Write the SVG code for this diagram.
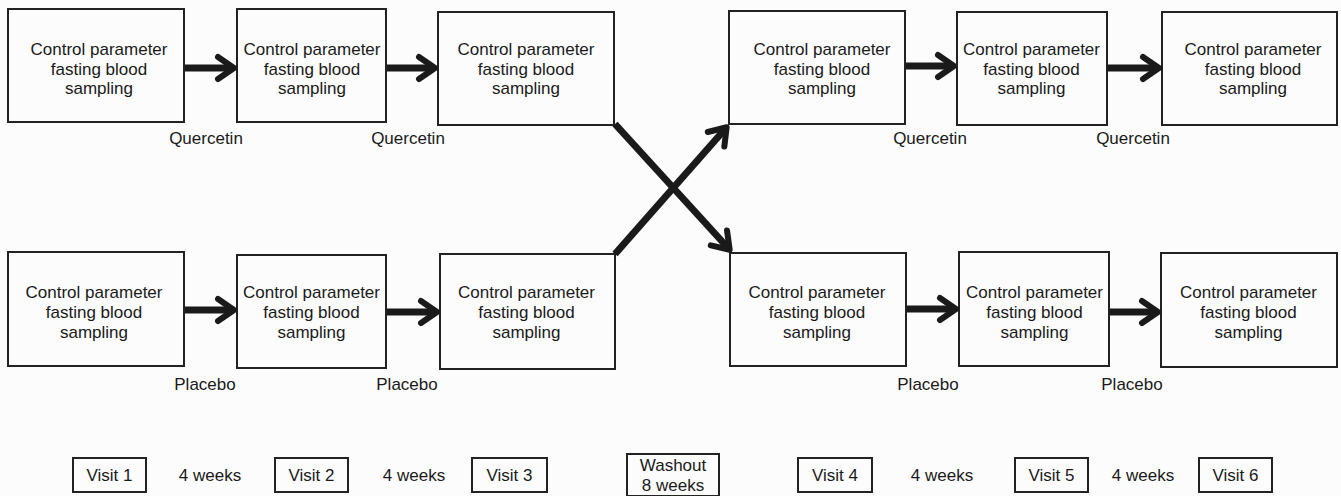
<svg xmlns="http://www.w3.org/2000/svg" width="1341" height="496" viewBox="0 0 1341 496">
<style>
text{font-family:"Liberation Sans",Arial,sans-serif;font-size:17px;fill:#1a1a1a;text-anchor:middle}
.box{fill:none;stroke:#222;stroke-width:2}
.lg{fill:none;stroke:#222;stroke-width:2}
.arr{fill:none;stroke:#1a1a1a;stroke-width:7;marker-end:url(#head)}
.lgt{font-size:16px}
</style>
<defs>
<marker id="head" markerUnits="userSpaceOnUse" viewBox="-30 -20 40 40" refX="0" refY="0" markerWidth="40" markerHeight="40" orient="auto" overflow="visible">
<path d="M -15 -11 L 1 0 L -15 11" fill="none" stroke="#1a1a1a" stroke-width="6" stroke-linejoin="round" stroke-linecap="round"/>
</marker>
</defs>
<rect width="1341" height="496" fill="#fcfcfc"/>

<g id="q1"><rect class="box" x="8" y="9" width="176" height="113"/><text x="99" y="55">Control parameter</text><text x="99" y="74.5">fasting blood</text><text x="99" y="94">sampling</text></g>
<g id="q2"><rect class="box" x="237" y="9" width="149" height="113"/><text x="312" y="55">Control parameter</text><text x="312" y="74.5">fasting blood</text><text x="312" y="94">sampling</text></g>
<g id="q3"><rect class="box" x="438" y="12" width="176" height="113"/><text x="526" y="55">Control parameter</text><text x="526" y="74.5">fasting blood</text><text x="526" y="94">sampling</text></g>
<g id="q4"><rect class="box" x="729" y="11" width="176" height="113"/><text x="822" y="55">Control parameter</text><text x="822" y="74.5">fasting blood</text><text x="822" y="94">sampling</text></g>
<g id="q5"><rect class="box" x="957" y="12" width="150" height="113"/><text x="1031.5" y="55">Control parameter</text><text x="1031.5" y="74.5">fasting blood</text><text x="1031.5" y="94">sampling</text></g>
<g id="q6"><rect class="box" x="1162" y="12" width="175" height="113"/><text x="1253" y="55">Control parameter</text><text x="1253" y="74.5">fasting blood</text><text x="1253" y="94">sampling</text></g>

<g id="p1"><rect class="box" x="8" y="252" width="176" height="114"/><text x="94" y="298">Control parameter</text><text x="94" y="318">fasting blood</text><text x="94" y="338">sampling</text></g>
<g id="p2"><rect class="box" x="237" y="255" width="149" height="113"/><text x="311.5" y="298">Control parameter</text><text x="311.5" y="318">fasting blood</text><text x="311.5" y="338">sampling</text></g>
<g id="p3"><rect class="box" x="440" y="254" width="175" height="115"/><text x="526.5" y="298">Control parameter</text><text x="526.5" y="318">fasting blood</text><text x="526.5" y="338">sampling</text></g>
<g id="p4"><rect class="box" x="730" y="253" width="176" height="113"/><text x="817" y="298">Control parameter</text><text x="817" y="318">fasting blood</text><text x="817" y="338">sampling</text></g>
<g id="p5"><rect class="box" x="959" y="252" width="150" height="114"/><text x="1034.5" y="298">Control parameter</text><text x="1034.5" y="318">fasting blood</text><text x="1034.5" y="338">sampling</text></g>
<g id="p6"><rect class="box" x="1161" y="253" width="176" height="114"/><text x="1248.5" y="298">Control parameter</text><text x="1248.5" y="318">fasting blood</text><text x="1248.5" y="338">sampling</text></g>

<g id="connectors">
<line class="arr" x1="185" y1="68" x2="233" y2="68"/>
<line class="arr" x1="387" y1="68" x2="434" y2="68"/>
<line class="arr" x1="906" y1="66" x2="953" y2="66"/>
<line class="arr" x1="1108" y1="68" x2="1158" y2="68"/>
<line class="arr" x1="185" y1="310" x2="233" y2="310"/>
<line class="arr" x1="387" y1="312" x2="436" y2="312"/>
<line class="arr" x1="907" y1="309" x2="955" y2="309"/>
<line class="arr" x1="1110" y1="312" x2="1157" y2="312"/>
<line class="arr" x1="615" y1="124" x2="729" y2="249"/>
<line class="arr" x1="615" y1="254" x2="726" y2="128"/>
</g>

<g id="labels">
<text x="206" y="144">Quercetin</text>
<text x="408" y="144">Quercetin</text>
<text x="930" y="144">Quercetin</text>
<text x="1133" y="144">Quercetin</text>
<text x="205" y="390">Placebo</text>
<text x="407" y="390">Placebo</text>
<text x="928" y="390">Placebo</text>
<text x="1132" y="390">Placebo</text>
</g>

<g id="timeline">
<g id="v1"><rect class="lg" x="73" y="458" width="73" height="34"/><text x="109.5" y="481">Visit 1</text></g>
<text x="210" y="481">4 weeks</text>
<g id="v2"><rect class="lg" x="275" y="458" width="73" height="34"/><text x="311.5" y="481">Visit 2</text></g>
<text x="414" y="481">4 weeks</text>
<g id="v3"><rect class="lg" x="472" y="458" width="75" height="34"/><text x="509.5" y="481">Visit 3</text></g>
<g id="wash"><rect class="lg" x="627" y="454" width="92" height="42"/><text x="673" y="471">Washout</text><text x="673" y="491">8 weeks</text></g>
<g id="v4"><rect class="lg" x="798" y="458" width="74" height="34"/><text x="835" y="481">Visit 4</text></g>
<text x="942" y="481">4 weeks</text>
<g id="v5"><rect class="lg" x="1015" y="458" width="73" height="34"/><text x="1051.5" y="481">Visit 5</text></g>
<text x="1143" y="481">4 weeks</text>
<g id="v6"><rect class="lg" x="1199" y="458" width="73" height="34"/><text x="1235.5" y="481">Visit 6</text></g>
</g>
</svg>
